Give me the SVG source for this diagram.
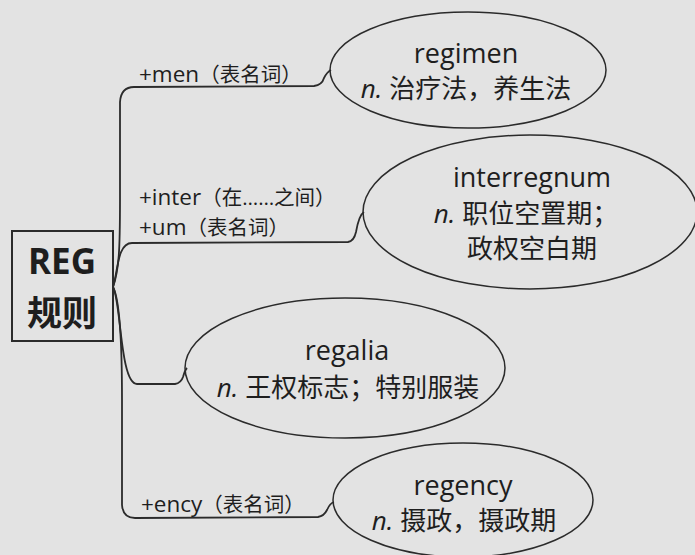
<svg xmlns="http://www.w3.org/2000/svg" width="695" height="555" viewBox="0 0 695 555">
<style>
.bg{fill:#e3e3e3}
.ell{fill:none;stroke:#2b2b2b;stroke-width:1.5}
.con{fill:none;stroke:#2b2b2b;stroke-width:1.8}
text{font-family:"Open Sans","Noto Sans","Noto Sans CJK SC",sans-serif;fill:#1e1e1e}
.w{font-size:26px;text-anchor:middle}
.e{font-size:27px}
.lbl{font-size:20.5px}
.la{font-size:22.5px}
.it{font-style:italic}
.root{font-size:35px;font-weight:bold;text-anchor:middle}
</style>
<rect class="bg" x="0" y="0" width="695" height="555"/>
<g id="connectors">
<path class="con" d="M113,287 C119,270 120,250 120,200 L120,102 Q121,87 134,87 L314,86 Q322,85 324,78 Q327,72 331,70"/>
<path class="con" d="M113,287 C118,272 117,243 132,243 L348,242 Q354,241 356,232 Q359,215 364,212"/>
<path class="con" d="M113,287 C121,300 120,384 137,384 L175,384 Q181,383 183,377 Q185,370 187,368"/>
<path class="con" d="M113,287 C120,300 122,350 122,400 L122,505 Q123,518 135,518 L318,517 Q324,516 327,510 Q330,503 334,502"/>
</g>
<g id="root">
<rect x="12" y="231" width="101" height="110" fill="none" stroke="#2b2b2b" stroke-width="2"/>
<text class="root" x="62" y="274">REG</text>
<text class="root" x="62" y="326">规则</text>
</g>
<g id="label-men"><text class="lbl" x="139" y="82"><tspan class="la">+men</tspan>（表名词）</text></g>
<g id="label-inter">
<text class="lbl" x="139" y="205"><tspan class="la">+inter</tspan>（在……之间）</text>
<text class="lbl" x="139" y="235"><tspan class="la">+um</tspan>（表名词）</text>
</g>
<g id="label-ency"><text class="lbl" x="141" y="512"><tspan class="la">+ency</tspan>（表名词）</text></g>
<g id="node-regimen">
<ellipse class="ell" cx="468" cy="70" rx="138" ry="58"/>
<text class="w e" x="466" y="63">regimen</text>
<text class="w" x="466" y="98"><tspan class="it">n.</tspan> 治疗法，养生法</text>
</g>
<g id="node-interregnum">
<ellipse class="ell" cx="530" cy="212" rx="167" ry="77"/>
<text class="w e" x="532" y="187">interregnum</text>
<text class="w" x="526" y="223"><tspan class="it">n.</tspan> 职位空置期；</text>
<text class="w" x="532" y="258">政权空白期</text>
</g>
<g id="node-regalia">
<ellipse class="ell" cx="345" cy="368" rx="160" ry="70"/>
<text class="w e" x="347" y="360">regalia</text>
<text class="w" x="348" y="397"><tspan class="it">n.</tspan> 王权标志；特别服装</text>
</g>
<g id="node-regency">
<ellipse class="ell" cx="463" cy="500" rx="130" ry="57"/>
<text class="w e" x="463" y="495">regency</text>
<text class="w" x="464" y="530"><tspan class="it">n.</tspan> 摄政，摄政期</text>
</g>
</svg>
